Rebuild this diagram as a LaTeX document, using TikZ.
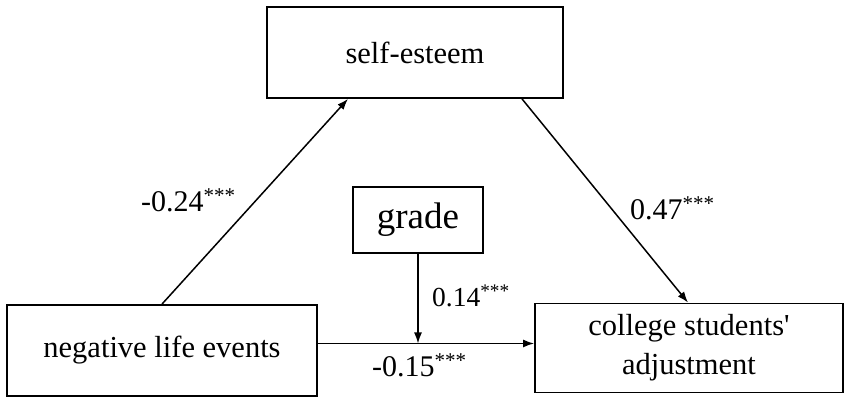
\documentclass[tikz,border=0pt]{standalone}
\usepackage{fontspec}
\setmainfont{Liberation Serif}
\usepackage{tikz}
\usetikzlibrary{arrows.meta}

\begin{document}
\begin{tikzpicture}[x=1pt,y=1pt,>={Latex[length=11pt,width=8pt]},
  var/.style={draw,line width=1.8pt,inner sep=0pt,font=\fontsize{30.5}{34}\selectfont,align=center},
  path/.style={->,line width=1.5pt},
  coef/.style={anchor=base west,inner sep=0pt,font=\fontsize{30}{34}\selectfont}]
\useasboundingbox (0,0) rectangle (851,403);
\node[var,minimum width=296pt,minimum height=91pt] (self) at (415,350.5) {self-esteem};
\node[var,minimum width=310pt,minimum height=91pt] (neg) at (162,52.5) {negative life events};
\node[var,minimum width=308pt,minimum height=89pt] (adj) at (689,55) {college students\textquotesingle\\[5pt] adjustment};
\node[var,minimum width=130pt,minimum height=66pt,font=\fontsize{37}{40}\selectfont] (grade) at (418,183) {grade};
\coordinate (start) at ([yshift=7pt]neg.east);
\coordinate (meet) at (grade.south |- start);
\draw[path] (neg.north) -- ([xshift=-67pt]self.south);
\draw[path] ([xshift=107pt]self.south) -- ([xshift=-1pt]adj.north);
\draw[path] (start) -- (start -| adj.west);
\draw[path] (grade.south) -- (meet);
\node[coef] (b24) at (141,191) {-0.24\textsuperscript{***}};
\node[coef] (b47) at (630,183) {0.47\textsuperscript{***}};
\node[coef,font=\fontsize{27.5}{32}\selectfont] (b14) at (432,96) {0.14\textsuperscript{***}};
\node[coef] (b15) at (372,26) {-0.15\textsuperscript{***}};
\end{tikzpicture}
\end{document}
